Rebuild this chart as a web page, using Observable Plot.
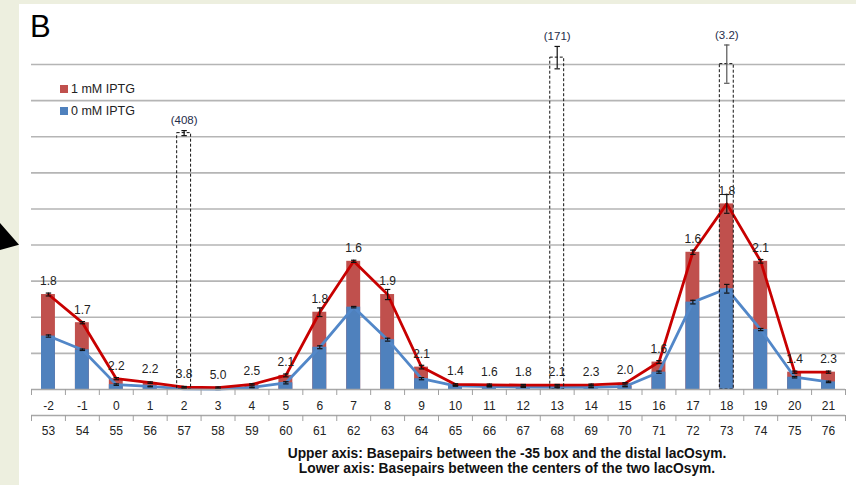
<!DOCTYPE html>
<html>
<head>
<meta charset="utf-8">
<script src="https://cdn.jsdelivr.net/npm/d3@7"></script>
<script src="https://cdn.jsdelivr.net/npm/@observablehq/plot@0.6"></script>
<style>
  html, body { margin: 0; padding: 0; }
  body {
    width: 856px; height: 485px; position: relative; overflow: hidden;
    background: #edefdf; font-family: "Liberation Sans", Arial, sans-serif; color: #222;
  }
  #panel { position: absolute; left: 19px; top: 4px; right: 0; bottom: 0; background: #fff; }
  #pointer {
    position: absolute; left: 0; top: 223px; width: 19px; height: 27px; background: #000;
    clip-path: polygon(0 0, 100% 81%, 0 100%);
  }
  #letter { position: absolute; left: 30px; top: 9px; font-size: 31px; color: #000; line-height: 36px; }
  #legend { position: absolute; left: 60px; top: 78px; font-size: 12.5px; color: #222; }
  .key { display: flex; align-items: center; height: 21.7px; }
  .sw { width: 8px; height: 8px; margin-right: 3px; }
  #chart { position: absolute; left: 0; top: 0; }
  #caption {
    position: absolute; left: 207px; width: 600px; top: 447px; text-align: center;
    font-weight: bold; font-size: 13.8px; line-height: 14.5px; color: #111;
  }
</style>
</head>
<body>
<div id="panel"></div>
<div id="pointer"></div>
<div id="letter">B</div>
<div id="legend"></div>
<div id="chart"></div>
<div id="caption">Upper axis: Basepairs between the -35 box and the distal lacOsym.<br>Lower axis: Basepairs between the centers of the two lacOsym.</div>
<script>
// Spacing positions (upper axis) and the matching centre-to-centre distances (lower axis)
const spacing = [-2, -1, 0, 1, 2, 3, 4, 5, 6, 7, 8, 9, 10, 11, 12, 13, 14, 15, 16, 17, 18, 19, 20, 21];
const centreDistance = [53, 54, 55, 56, 57, 58, 59, 60, 61, 62, 63, 64, 65, 66, 67, 68, 69, 70, 71, 72, 73, 74, 75, 76];

// Expression with 1 mM IPTG and without IPTG
const induced = [2.63, 1.85, 0.30, 0.19, 0.065, 0.05, 0.14, 0.39, 2.14, 3.55, 2.63, 0.62, 0.14, 0.13, 0.12, 0.12, 0.13, 0.17, 0.76, 3.80, 5.14, 3.55, 0.48, 0.48];
const uninduced = [1.48, 1.10, 0.135, 0.085, 0.017, 0.01, 0.056, 0.185, 1.17, 2.28, 1.38, 0.30, 0.10, 0.08, 0.067, 0.057, 0.057, 0.085, 0.48, 2.42, 2.79, 1.66, 0.34, 0.21];
const inducedErr = [0.04, 0.03, 0.03, 0.02, 0.02, 0.02, 0.02, 0.04, 0.12, 0.03, 0.14, 0.05, 0.02, 0.02, 0.02, 0.02, 0.02, 0.02, 0.04, 0.06, 0.26, 0.05, 0.03, 0.03];
const uninducedErr = [0.03, 0.02, 0.02, 0.01, 0.01, 0.01, 0.01, 0.03, 0.04, 0.02, 0.04, 0.03, 0.01, 0.01, 0.01, 0.01, 0.01, 0.01, 0.03, 0.05, 0.12, 0.03, 0.02, 0.02];

// Induction ratios printed above each position
const inductionRatio = ["1.8", "1.7", "2.2", "2.2", "3.8", "5.0", "2.5", "2.1", "1.8", "1.6", "1.9", "2.1", "1.4", "1.6", "1.8", "2.1", "2.3", "2.0", "1.6", "1.6", "1.8", "2.1", "1.4", "2.3"];

// Reference constructs drawn as dashed outlines
const outlinePos = [2, 13, 18];
const outlineValue = [7.1, 9.19, 9.01];
const outlineErr = [0.07, 0.31, 0.53];
const outlineLabel = ["(408)", "(171)", "(3.2)"];

const seriesNames = ["1 mM IPTG", "0 mM IPTG"];
const barColors = ["#c0504d", "#4f81bd"];
const lineColors = ["#c80000", "#5287c8"];

const rows = spacing.map((pos, i) => ({
  pos, red: induced[i], blue: uninduced[i], redErr: inducedErr[i], blueErr: uninducedErr[i], ratio: inductionRatio[i]
}));
const outlines = outlinePos.map((pos, i) => ({pos, top: outlineValue[i], err: outlineErr[i], label: outlineLabel[i]}));
const errors = [
  ...rows.map(d => ({pos: d.pos, v: d.red, e: d.redErr, c: "#111"})),
  ...rows.map(d => ({pos: d.pos, v: d.blue, e: d.blueErr, c: "#111"})),
  ...outlines.map((d, i) => ({pos: d.pos, v: d.top, e: d.err, c: i === 2 ? "#555" : "#111"}))
];
const boundaries = d3.range(spacing.length + 1).map(i => spacing[0] - 0.5 + i);

const half = 0.5, cap = 0.08, gridColor = "#b5b5b5";

const chart = Plot.plot({
  width: 856,
  height: 440,
  marginLeft: 31,
  marginRight: 11,
  marginTop: 64,
  marginBottom: 51,
  style: {background: "transparent", fontFamily: "Liberation Sans, Arial, sans-serif", fontSize: "12px", color: "#222", overflow: "visible"},
  x: {type: "linear", domain: [spacing[0] - half, spacing[spacing.length - 1] + half], axis: null},
  y: {domain: [0, 9], axis: null},
  marks: [
    Plot.gridY(d3.range(1, 10), {stroke: gridColor, strokeOpacity: 1, strokeWidth: 1.6}),
    Plot.rectY(rows, {x1: d => d.pos - half, x2: d => d.pos + half, y: "red", fill: barColors[0], insetLeft: 10, insetRight: 10}),
    Plot.rectY(rows, {x1: d => d.pos - half, x2: d => d.pos + half, y: "blue", fill: barColors[1], insetLeft: 10, insetRight: 10}),
    Plot.line(rows, {x: "pos", y: "blue", stroke: lineColors[1], strokeWidth: 2.8}),
    Plot.line(rows, {x: "pos", y: "red", stroke: lineColors[0], strokeWidth: 2.8}),
    Plot.rectY(outlines, {x1: d => d.pos - half, x2: d => d.pos + half, y: "top", insetLeft: 10, insetRight: 10,
      fill: "none", stroke: "#111", strokeWidth: 1, strokeDasharray: "3,2"}),
    Plot.ruleX(errors, {x: "pos", y1: d => d.v - d.e, y2: d => d.v + d.e, stroke: "c", strokeWidth: 1.2}),
    Plot.link(errors, {x1: d => d.pos - cap, x2: d => d.pos + cap, y1: d => d.v + d.e, y2: d => d.v + d.e, stroke: "c", strokeWidth: 1.2}),
    Plot.link(errors, {x1: d => d.pos - cap, x2: d => d.pos + cap, y1: d => d.v - d.e, y2: d => d.v - d.e, stroke: "c", strokeWidth: 1.2}),
    Plot.text(rows, {x: "pos", y: "red", text: "ratio", dy: -13, fill: "#222", fontSize: 12}),
    Plot.text(outlines, {x: "pos", y: d => d.top + d.err, text: "label", dy: -10, fill: "#1f2d4a", fontSize: 11.5}),
    // upper category axis
    Plot.ruleY([0], {stroke: "#a8a8a8", strokeWidth: 1.6}),
    Plot.axisX(boundaries, {tickSize: 6, tickFormat: () => "", stroke: "#a0a0a0", label: null}),
    Plot.axisX(spacing, {tickSize: 0, tickPadding: 12, tickFormat: d => String(d), fill: "#222", label: null}),
    // lower category axis
    Plot.ruleY([0], {stroke: "#a8a8a8", strokeWidth: 1.6, dy: 26}),
    Plot.axisX(boundaries, {tickSize: 6, dy: 26, tickFormat: () => "", stroke: "#a0a0a0", label: null}),
    Plot.axisX(spacing, {tickSize: 0, tickPadding: 37, tickFormat: d => String(centreDistance[spacing.indexOf(d)]), fill: "#222", label: null})
  ]
});
document.getElementById("chart").append(chart);

const legend = document.getElementById("legend");
seriesNames.forEach((name, i) => {
  const row = document.createElement("div");
  row.className = "key";
  row.innerHTML = `<span class="sw" style="background:${barColors[i]}"></span><span>${name}</span>`;
  legend.append(row);
});
</script>
</body>
</html>
